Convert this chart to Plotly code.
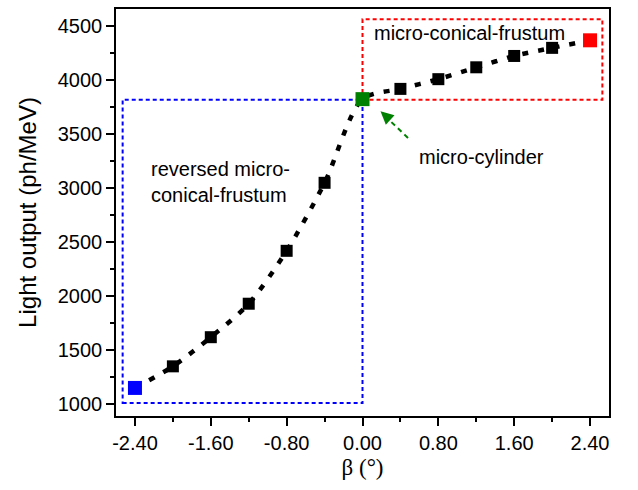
import plotly.graph_objects as go

beta = [-2.4, -2.0, -1.6, -1.2, -0.8, -0.4, 0.0, 0.4, 0.8, 1.2, 1.6, 2.0, 2.4]
light = [1150, 1350, 1620, 1930, 2420, 3050, 3825, 3920, 4010, 4120, 4225, 4300, 4370]
point_colors = ["#0000ff", "black", "black", "black", "black", "black", "#008000",
                "black", "black", "black", "black", "black", "#ff0000"]
point_sizes = [14, 12, 12, 12, 12, 12, 14, 12, 12, 12, 12, 12, 14]
xtick_vals = [-2.4, -1.6, -0.8, 0.0, 0.8, 1.6, 2.4]
xtick_text = ["-2.40", "-1.60", "-0.80", "0.00", "0.80", "1.60", "2.40"]
ytick_vals = [1000, 1500, 2000, 2500, 3000, 3500, 4000, 4500]

fig = go.Figure()
fig.add_trace(go.Scatter(
    x=beta, y=light, mode="lines",
    line=dict(color="black", width=4.5, dash="6px,10px", shape="spline", smoothing=0.8),
    hoverinfo="skip", showlegend=False))
fig.add_trace(go.Scatter(
    x=beta, y=light, mode="markers",
    marker=dict(symbol="square", size=point_sizes, color=point_colors,
                opacity=1, line=dict(width=0)),
    showlegend=False))

# boxes
fig.add_shape(type="rect", x0=-2.53, x1=0.0, y0=1010, y1=3820,
              line=dict(color="#0000ff", width=2, dash="4px,3px"), layer="below")
fig.add_shape(type="rect", x0=0.0, x1=2.53, y0=3820, y1=4565,
              line=dict(color="#ff0000", width=2, dash="4px,3px"), layer="below")

# dashed green arrow
fig.add_shape(type="line", x0=0.48, y0=3465, x1=0.26, y1=3650,
              line=dict(color="#008000", width=2, dash="5px,4px"))
fig.add_annotation(x=0.19, y=3712, ax=10, ay=9, axref="pixel", ayref="pixel",
                   showarrow=True, arrowhead=2, arrowsize=1.3, arrowwidth=2,
                   arrowcolor="#008000", text="")

font_txt = dict(family="Liberation Sans, Arial, sans-serif", size=20, color="black")
fig.add_annotation(x=0.1, y=4435, text="micro-conical-frustum", showarrow=False,
                   xanchor="left", yanchor="middle", font=font_txt)
fig.add_annotation(x=-2.25, y=3055, text="reversed micro-<br>conical-frustum",
                   showarrow=False, xanchor="left", yanchor="middle", align="left",
                   font=font_txt)
fig.add_annotation(x=0.58, y=3290, text="micro-cylinder", showarrow=False,
                   xanchor="left", yanchor="middle", font=font_txt)

fig.update_layout(
    width=638, height=490,
    margin=dict(l=116, r=29, t=7, b=74),
    plot_bgcolor="white", paper_bgcolor="white",
    font=dict(family="Liberation Sans, Arial, sans-serif", size=20, color="black"),
)
fig.update_xaxes(
    range=[-2.6, 2.6], tickvals=xtick_vals, ticktext=xtick_text,
    ticks="outside", ticklen=8, tickwidth=1.5, tickcolor="black",
    minor=dict(dtick=0.4, tick0=0, ticks="outside", ticklen=4, tickwidth=1.5, tickcolor="black"),
    showline=True, linecolor="black", linewidth=1.5, mirror=True,
    showgrid=False, zeroline=False,
    tickfont=dict(size=20),
    title=dict(text="β (°)", font=dict(family="Liberation Serif, Times New Roman, serif", size=23), standoff=6),
)
fig.update_yaxes(
    range=[890, 4660], tickvals=ytick_vals,
    ticks="outside", ticklen=8, tickwidth=1.5, tickcolor="black",
    minor=dict(dtick=250, tick0=0, ticks="outside", ticklen=4, tickwidth=1.5, tickcolor="black"),
    showline=True, linecolor="black", linewidth=1.5, mirror=True,
    showgrid=False, zeroline=False,
    tickfont=dict(size=20),
    title=dict(text="Light output (ph/MeV)", font=dict(size=24), standoff=14),
)
fig.write_html("out.html")
